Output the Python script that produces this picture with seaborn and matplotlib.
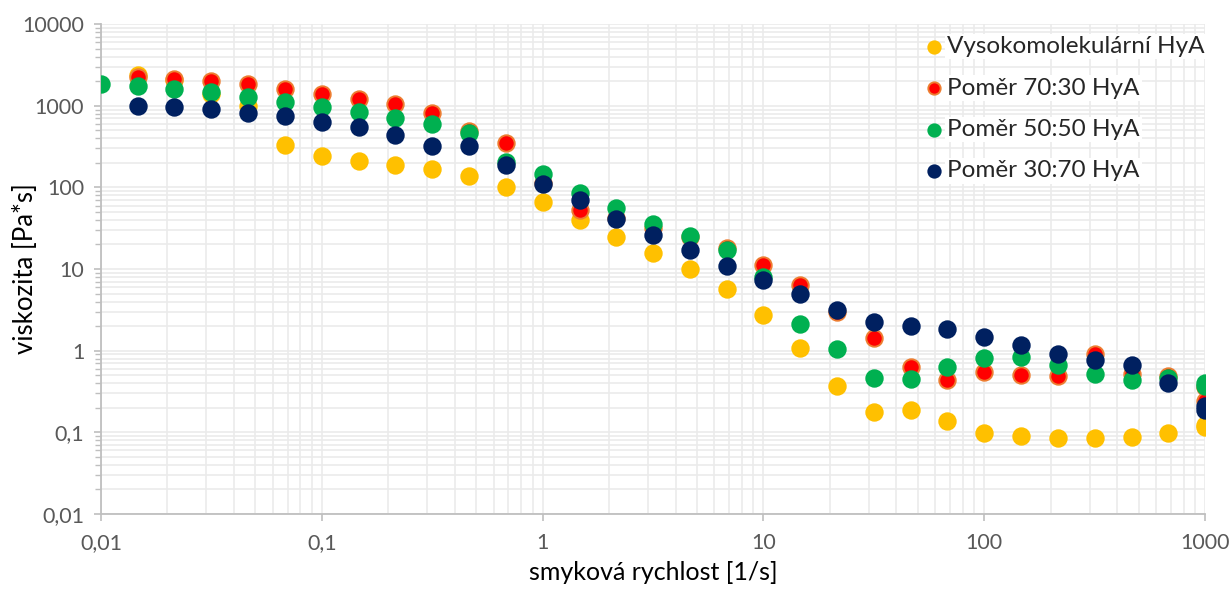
import numpy as np
import pandas as pd
import matplotlib
matplotlib.use("Agg")
import matplotlib.pyplot as plt
import matplotlib.ticker as mticker
import seaborn as sns

# shear rate [1/s] – six points per decade, the last rate measured twice
shear_rate = [0.01, 0.0147, 0.0215, 0.0316, 0.0464, 0.0681, 0.1, 0.147, 0.215, 0.316,
              0.464, 0.681, 1, 1.47, 2.15, 3.16, 4.64, 6.81, 10, 14.7, 21.5, 31.6,
              46.4, 68.1, 100, 147, 215, 316, 464, 681, 1000, 1000]

nan = np.nan
visc_high_mw = [nan, 2370, 2100, 1390, 990, 330, 242, 212, 188, 167,
                138, 102, 66, 40, 24.9, 15.8, 10, 5.7, 2.7, 1.07, 0.374, 0.177,
                0.188, 0.137, 0.098, 0.089, 0.086, 0.085, 0.087, 0.098, 0.122, 0.116]
visc_70_30 = [nan, 2260, 2120, 2000, 1830, 1585, 1380, 1210, 1040, 821,
              494, 347, 113, 52.5, 42, 32, 24.5, 18, 11.2, 6.3, 3.0, 1.41,
              0.638, 0.44, 0.555, 0.51, 0.49, 0.906, 0.52, 0.496, 0.36, 0.245]
visc_50_50 = [1845, 1757, 1585, 1459, 1289, 1109, 973, 845, 713, 597,
              459, 203, 145, 86, 55.5, 35.6, 25.6, 17, 8.1, 2.1, 1.04, 0.46,
              0.452, 0.638, 0.81, 0.83, 0.67, 0.52, 0.44, 0.46, 0.40, 0.37]
visc_30_70 = [nan, 991, 973, 904, 821, 748, 637, 543, 437, 324,
              321, 188, 109, 69.5, 40.6, 26, 17.1, 11, 7.4, 4.9, 3.16, 2.27,
              2.03, 1.85, 1.49, 1.17, 0.914, 0.771, 0.664, 0.40, 0.21, 0.185]

series_names = ["Vysokomolekulární HyA", "Poměr 70:30 HyA",
                "Poměr 50:50 HyA", "Poměr 30:70 HyA"]
series_values = [visc_high_mw, visc_70_30, visc_50_50, visc_30_70]
fill_colors = ["#FFC000", "#FF0000", "#00B050", "#002060"]
edge_colors = ["#FFC000", "#ED7D31", "#00B050", "#002060"]

x_major = [0.01, 0.1, 1, 10, 100, 1000]
y_major = [0.01, 0.1, 1, 10, 100, 1000, 10000]

frames = []
for name, vals in zip(series_names, series_values):
    frames.append(pd.DataFrame({"rate": shear_rate, "visc": vals, "series": name}))
data = pd.concat(frames, ignore_index=True).dropna()

sns.set_theme(style="white")
plt.rcParams["font.family"] = ["Lato", "DejaVu Sans"]

fig = plt.figure(figsize=(12.31, 5.90), dpi=100)
ax = fig.add_axes([0.082, 0.129, 0.897, 0.830])

for name, fc, ec in zip(series_names, fill_colors, edge_colors):
    sub = data[data["series"] == name]
    sns.scatterplot(data=sub, x="rate", y="visc", ax=ax, color=fc,
                    edgecolor=ec, linewidth=1.4, s=140, label=name, zorder=3)

ax.set_xscale("log")
ax.set_yscale("log")
ax.set_xlim(x_major[0], x_major[-1])
ax.set_ylim(y_major[0], y_major[-1])


def comma_fmt(v, pos):
    if v >= 1:
        return f"{v:.0f}"
    return f"{v:g}".replace(".", ",")


def minor_between(majors):
    return [m * k for m in majors[:-1] for k in range(2, 10)]


ax.xaxis.set_major_locator(mticker.FixedLocator(x_major))
ax.yaxis.set_major_locator(mticker.FixedLocator(y_major))
ax.xaxis.set_minor_locator(mticker.FixedLocator(minor_between(x_major)))
ax.yaxis.set_minor_locator(mticker.FixedLocator(minor_between(y_major)))
ax.xaxis.set_major_formatter(mticker.FuncFormatter(comma_fmt))
ax.yaxis.set_major_formatter(mticker.FuncFormatter(comma_fmt))
ax.xaxis.set_minor_formatter(mticker.NullFormatter())
ax.yaxis.set_minor_formatter(mticker.NullFormatter())

ax.grid(True, which="both", color="#EBEBEB", linewidth=1.2, zorder=0)
ax.set_axisbelow(True)

for side in ["top", "right"]:
    ax.spines[side].set_visible(False)
for side in ["left", "bottom"]:
    ax.spines[side].set_color("#BFBFBF")
    ax.spines[side].set_linewidth(1.3)

ax.tick_params(axis="both", which="major", labelsize=15.5, labelcolor="#595959",
               color="#BFBFBF", length=5, width=1.2, direction="out")
ax.tick_params(axis="x", which="major", bottom=True, pad=9)
ax.tick_params(axis="y", which="major", left=True, pad=7)
ax.tick_params(axis="y", which="minor", left=True, length=4, width=1.0, color="#BFBFBF")
ax.tick_params(axis="x", which="minor", bottom=False)

ax.set_xlabel("smyková rychlost [1/s]", fontsize=18, color="#000000")
ax.set_ylabel("viskozita [Pa*s]", fontsize=18.5, color="#000000")
ax.xaxis.set_label_coords(0.5, -0.097)
ax.yaxis.set_label_coords(-0.057, 0.5)

leg = ax.legend(loc="upper right", bbox_to_anchor=(1.014, 1.008), frameon=False,
                fontsize=17.5, markerscale=0.75, handlelength=0.8, handletextpad=0.15,
                labelspacing=0.84, borderaxespad=0.25)
for txt in leg.get_texts():
    txt.set_bbox(dict(facecolor="white", edgecolor="none", pad=1.5))

fig.savefig("out.png", dpi=100)
